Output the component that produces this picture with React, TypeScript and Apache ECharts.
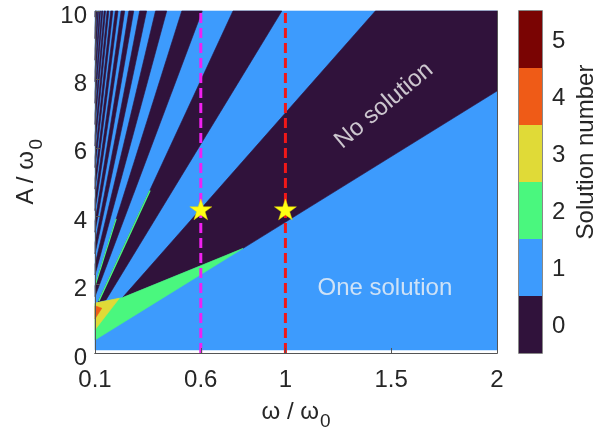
import React, { useEffect, useRef } from 'react';
import * as echarts from 'echarts';

// ---- axis ticks ----
const omegaTicks = [0.1, 0.6, 1, 1.5, 2];
const ampTicks = [0, 2, 4, 6, 8, 10];

// ---- colour levels (solution number) ----
const solutionLevels = [0, 1, 2, 3, 4, 5];
const levelColors = ['#30123b', '#3d9bfd', '#4af77e', '#e0da37', '#ef5b17', '#7a0403'];

// ---- regions: [omega, A] vertices ----
const oneSolutionRegion = [[0.1, 0.09], [2, 0.09], [2, 10], [0.1, 10]];

const noSolutionMain = [[0.23, 1.62], [0.8, 3.06], [2, 7.66], [2, 10], [1.425, 10]];

const noSolutionWedges = [
  [[0.115, 1.5], [0.152, 1.55], [0.983, 10], [0.752, 10]],
  [[0.1, 1.65], [0.607, 10], [0.51, 10], [0.1, 1.96]],
  [[0.1, 2.28], [0.439, 10], [0.386, 10], [0.1, 2.59]],
  [[0.1, 2.9], [0.344, 10], [0.311, 10], [0.1, 3.22]],
  [[0.1, 3.53], [0.283, 10], [0.26, 10], [0.1, 3.85]],
  [[0.1, 4.16], [0.2403, 10], [0.2234, 10], [0.1, 4.48]],
  [[0.1, 4.79], [0.2088, 10], [0.1959, 10], [0.1, 5.1]],
  [[0.1, 5.42], [0.1845, 10], [0.1744, 10], [0.1, 5.73]],
  [[0.1, 6.05], [0.1654, 10], [0.1572, 10], [0.1, 6.36]],
  [[0.1, 6.68], [0.1498, 10], [0.1431, 10], [0.1, 6.99]],
  [[0.1, 7.3], [0.1369, 10], [0.1313, 10], [0.1, 7.62]],
  [[0.1, 7.93], [0.1261, 10], [0.1213, 10], [0.1, 8.25]],
  [[0.1, 8.56], [0.1168, 10], [0.1127, 10], [0.1, 8.88]],
  [[0.1, 9.19], [0.1088, 10], [0.1052, 10], [0.1, 9.5]],
  [[0.1, 9.82], [0.1019, 10], [0.1, 10]],
];

const twoSolutionRegion = [[0.1, 0.38], [0.8, 3.06], [0.23, 1.62], [0.1, 1.45]];
const threeSolutionRegion = [[0.1, 0.68], [0.215, 1.6], [0.1, 1.46]];
const fourSolutionRegion = [[0.1, 1.0], [0.132, 1.31], [0.1, 1.38]];

// thin two-solution seams along wedge edges
const seamA = [[0.118, 1.52], [0.36, 4.75]];
const seamB = [[0.102, 2.0], [0.2, 3.92]];

// ---- markers ----
const cutMagenta = [[0.6, 0], [0.6, 10]];
const cutRed = [[1, 0], [1, 10]];
const starPoints = [[0.6, 4.2], [1, 4.2]];
const noSolutionLabelAt = [1.46, 7.28];
const oneSolutionLabelAt = [1.47, 1.93];

const FONT = '"Liberation Sans", Arial, Helvetica, sans-serif';
const TXT = '#262626';
const STAR = 'path://M50,0 L61.8,35.1 L98.9,35.1 L68.9,57 L80.3,92.7 L50,71 L19.7,92.7 L31.1,57 L1.1,35.1 L38.2,35.1 Z';

const regions: { sol: number; pts: number[][] }[] = [
  { sol: 1, pts: oneSolutionRegion },
  { sol: 0, pts: noSolutionMain },
  ...noSolutionWedges.map((p) => ({ sol: 0, pts: p })),
  { sol: 2, pts: twoSolutionRegion },
  { sol: 3, pts: threeSolutionRegion },
  { sol: 4, pts: fourSolutionRegion },
];

export default function App() {
  const ref = useRef<HTMLDivElement>(null);
  useEffect(() => {
    const chart = echarts.init(ref.current!, null, { renderer: 'svg' });
    const axisLine = { show: true, lineStyle: { color: '#555', width: 1 } };
    const option: any = {
      animation: false,
      grid: { left: 95, right: 117, top: 11, bottom: 82, containLabel: false, outerBoundsMode: 'none' },
      xAxis: [
        {
          type: 'value', min: 0.1, max: 2, z: 10,
          axisLine,
          axisTick: { show: true, inside: true, length: 5, customValues: omegaTicks, lineStyle: { color: '#555' } },
          axisLabel: { customValues: omegaTicks, fontSize: 24, lineHeight: 22, fontFamily: FONT, color: TXT, margin: 14 },
          splitLine: { show: false },
          name: '{a|ω / ω}{s|0}', nameLocation: 'middle', nameGap: 38,
          nameTextStyle: {
            rich: {
              a: { fontSize: 24, fontFamily: FONT, color: TXT },
              s: { fontSize: 19, fontFamily: FONT, color: TXT, padding: [20, 0, 0, 1] },
            },
          },
        },
        {
          type: 'value', position: 'top', min: 0.1, max: 2, z: 10,
          axisLine, axisTick: { show: false }, axisLabel: { show: false }, splitLine: { show: false },
        },
      ],
      yAxis: [
        {
          type: 'value', min: 0, max: 10, interval: 2, z: 10,
          axisLine,
          axisTick: { show: true, inside: true, length: 5, lineStyle: { color: '#555' } },
          axisLabel: {
            margin: 8, customValues: ampTicks,
            formatter: '{v|{value}}',
            rich: { v: { fontSize: 24, lineHeight: 16, fontFamily: FONT, color: TXT, padding: [6, 0, 0, 0] } },
          },
          splitLine: { show: false },
          name: '{a|A / ω}{s|0}', nameLocation: 'middle', nameGap: 50, nameRotate: 90,
          nameTextStyle: {
            padding: [0, 0, 0, 20],
            rich: {
              a: { fontSize: 24, fontFamily: FONT, color: TXT },
              s: { fontSize: 19, fontFamily: FONT, color: TXT, padding: [22, 0, 0, 1] },
            },
          },
        },
        {
          type: 'value', position: 'right', min: 0, max: 10, z: 10,
          axisLine, axisTick: { show: false }, axisLabel: { show: false }, splitLine: { show: false },
        },
      ],
      visualMap: {
        type: 'piecewise',
        seriesIndex: 0,
        dimension: 1,
        orient: 'vertical',
        align: 'left',
        left: 519, top: 11,
        padding: 0,
        itemWidth: 23, itemHeight: 57, itemGap: 0,
        itemSymbol: 'rect',
        textGap: 10,
        selectedMode: false,
        hoverLink: false,
        textStyle: { fontSize: 24, fontFamily: FONT, color: TXT },
        pieces: solutionLevels.map((v, i) => ({ value: v, label: String(v), color: levelColors[i] })),
      },
      graphic: [
        {
          type: 'rect', z: 100, silent: true,
          shape: { x: 518.5, y: 10.5, width: 24, height: 343 },
          style: { fill: 'none', stroke: '#888', lineWidth: 1 },
        },
        {
          type: 'text', x: 584, y: 152, rotation: Math.PI / 2, silent: true,
          style: { text: 'Solution number', fontSize: 24, fontFamily: FONT, fill: TXT, align: 'center', verticalAlign: 'middle' },
        },
      ],
      series: [
        {
          type: 'custom',
          silent: true,
          data: regions.map((r, i) => [i, r.sol]),
          renderItem: (params: any, api: any) => {
            const poly = regions[params.dataIndex].pts;
            const points = poly.map((p) => api.coord(p));
            const c = api.visual('color');
            return { type: 'polygon', shape: { points }, style: { fill: c, stroke: c, lineWidth: 0.6 } };
          },
          z: 1,
        },
        {
          type: 'line', silent: true, data: seamA, symbol: 'none', z: 2,
          lineStyle: { color: levelColors[2], width: 1.5 },
        },
        {
          type: 'line', silent: true, data: seamB, symbol: 'none', z: 2,
          lineStyle: { color: levelColors[2], width: 1.2 },
        },
        {
          type: 'line', silent: true, data: cutMagenta, symbol: 'none', z: 3,
          lineStyle: { color: '#f020f0', width: 3, type: [10, 5] },
        },
        {
          type: 'line', silent: true, data: cutRed, symbol: 'none', z: 3,
          lineStyle: { color: '#f01818', width: 3, type: [10, 5] },
        },
        {
          type: 'scatter', silent: true, data: starPoints, symbol: STAR, symbolSize: 22, symbolKeepAspect: true, z: 4,
          itemStyle: { color: '#ffff14', opacity: 1, borderColor: '#e0d800', borderWidth: 0.5 },
        },
        {
          type: 'scatter', silent: true, symbolSize: 0, z: 5,
          data: [
            { value: noSolutionLabelAt, name: 'No solution', label: { rotate: 40 } },
            { value: oneSolutionLabelAt, name: 'One solution' },
          ],
          label: {
            show: true, position: 'inside', formatter: '{b}',
            fontSize: 24, fontFamily: FONT, color: '#f4f4f4',
          },
        },
      ],
    };
    chart.setOption(option);
    return () => chart.dispose();
  }, []);
  return <div ref={ref} style={{ position: 'fixed', left: 0, top: 0, width: 614, height: 435 }} />;
}
